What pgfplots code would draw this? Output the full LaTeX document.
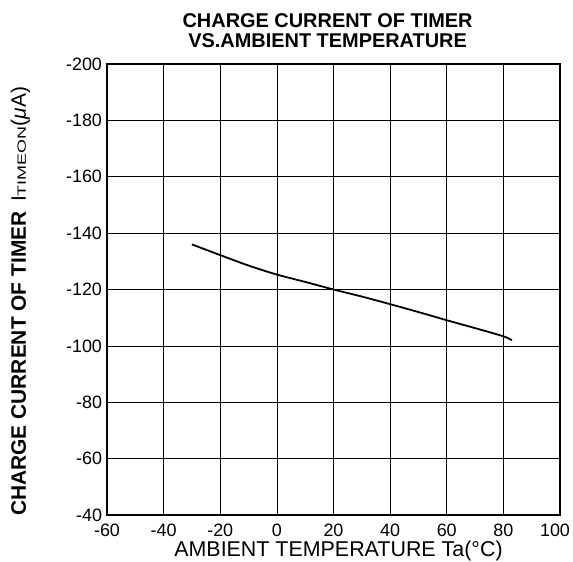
\documentclass[border=0pt]{standalone}
\usepackage{graphicx}
\usepackage{pgfplots}
\pgfplotsset{compat=1.18}
\usepackage{fontspec}
\setmainfont{Liberation Sans}
\begin{document}
\begin{tikzpicture}
\begin{axis}[
    scale only axis,
    width=453bp, height=451bp,
    xmin=-60, xmax=100,
    ymin=-200, ymax=-40,
    y dir=reverse,
    xtick={-60,-40,...,80},
    extra x ticks={100},
    extra x tick style={xticklabel style={xshift=-5bp}},
    ytick={-200,-180,...,-40},
    grid=major,
    major grid style={black, line width=0.7pt},
    axis line style={black, line width=1.8pt},
    major tick length=0pt,
    /pgf/number format/assume math mode=true,
    ticklabel style={font=\fontsize{18}{20}\selectfont},
    xticklabel style={yshift=-5bp},
    yticklabel style={xshift=-1.5bp},
    title={CHARGE CURRENT OF TIMER\\VS.AMBIENT TEMPERATURE},
    title style={font=\fontsize{20}{20.5}\selectfont\bfseries, align=center,
        at={(axis description cs:0.487,1.061)}, anchor=center},
    xlabel={AMBIENT TEMPERATURE Ta(°C)},
    xlabel style={font=\fontsize{21.5}{22}\selectfont,
        at={(axis description cs:0.511,-0.0798)}, anchor=center},
    ylabel={\textbf{CHARGE CURRENT OF TIMER}\hspace{0.45em}I\scalebox{1.5}[1]{\fontsize{12}{12}\selectfont TIMEON}(\textit{μ}A)},
    ylabel style={font=\fontsize{21}{22}\selectfont,
        at={(axis description cs:-0.191,0.4736)}, anchor=center},
]
\addplot[black, line width=1.8pt, smooth] coordinates {
    (-30,-136) (-20,-132.2) (-10,-128.5) (0,-125.3) (10,-122.7) (20,-120)
    (30,-117.5) (40,-114.8) (50,-112) (60,-109.1) (70,-106.3) (80,-103.4) (83,-102)
};
\end{axis}
\pgfresetboundingbox
\path[use as bounding box] ([shift={(-107bp,-47bp)}]current axis.south west)
    rectangle ([shift={(466bp,515bp)}]current axis.south west);
\end{tikzpicture}
\end{document}
